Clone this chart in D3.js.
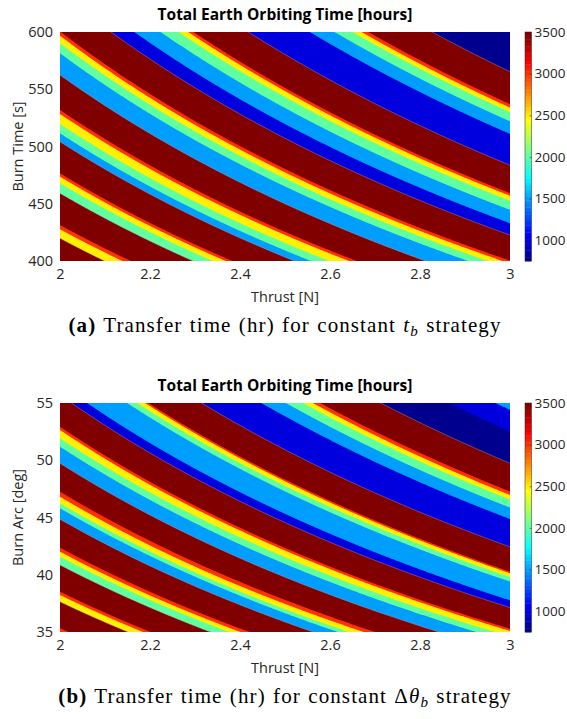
<!DOCTYPE html>
<html>
<head>
<meta charset="utf-8">
<script src="https://cdn.jsdelivr.net/npm/d3@7"></script>
<style>
body { margin: 0; background: #fff; }
.tick text, .lbl { font-family: "Open Sans", Lato, sans-serif; fill: #262626; }
.cap { font-family: "Liberation Serif", serif; fill: #000; }
</style>
</head>
<body>
<div id="chart"></div>
<script>
// --> DATA
var thrustTicks = [2, 2.2, 2.4, 2.6, 2.8, 3];
var timeTicks = [400, 450, 500, 550, 600];
var arcTicks = [35, 40, 45, 50, 55];
var cbarTicks = [1000, 1500, 2000, 2500, 3000, 3500];

// (a) band edges along thrust*burn time [N s], and contour level [hours] of each band
var edgesA = [800, 839.7, 855.4, 862.9, 918.3, 935.7, 947.3, 953.2, 1008.4, 1023.1, 1039.4,
              1056.9, 1063.8, 1124.9, 1162.8, 1180.3, 1193.5, 1201, 1268, 1299, 1334, 1358,
              1371, 1378, 1451, 1533, 1566, 1590, 1602, 1611, 1696, 1800];
var levelsA = [3500, 2500, 3000, 3500, 2000, 2500, 3000, 3500, 1500, 2000, 2500, 3000, 3500,
               1500, 2000, 2500, 3000, 3500, 1000, 1500, 2000, 2500, 3000, 3500,
               1000, 1500, 2000, 2500, 3000, 3500, 500];

// (b) band edges along thrust*burn arc [N deg]
var edgesB = [70, 70.65, 75.29, 76.46, 77.04, 81.7, 83.15, 84.03, 84.73, 89.69, 91.61, 92.48,
              93.63, 94.51, 99.47, 102.37, 103.83, 105.28, 105.86, 111.4, 113.3, 118.2, 119.4,
              120.4, 120.8, 127.3, 134.6, 137.6, 139.7, 140.9, 141.8, 149.2, 157.5, 163.2, 165];
var levelsB = [3000, 3500, 2500, 3000, 3500, 2000, 2500, 3000, 3500, 1500, 2000, 2500, 3000, 3500,
               1500, 2000, 2500, 3000, 3500, 1000, 1500, 2000, 2500, 3000, 3500,
               1000, 1500, 2000, 2500, 3000, 3500, 500, 1000, 1500];

var cmin = 750, cmax = 3500;

// MATLAB jet(64)
function jetColors(m) {
  var n = Math.ceil(m / 4);
  var u = [];
  for (var i = 1; i <= n; i++) u.push(i / n);
  for (var i = 1; i < n; i++) u.push(1);
  for (var i = n; i >= 1; i--) u.push(i / n);
  var g0 = Math.ceil(n / 2) - (m % 4 == 1 ? 1 : 0);
  var rgb = d3.range(m).map(function(){ return [0, 0, 0]; });
  u.forEach(function(val, k) {
    var gi = g0 + k + 1, ri = gi + n, bi = gi - n;
    if (gi <= m) rgb[gi - 1][1] = val;
    if (ri <= m) rgb[ri - 1][0] = val;
    if (bi >= 1 && bi <= m) rgb[bi - 1][2] = val;
  });
  return rgb.map(function(c){ return d3.rgb(c[0] * 255, c[1] * 255, c[2] * 255).formatHex(); });
}
var jet = jetColors(64);
function levelColor(v) {
  var k = Math.floor((v - cmin) / (cmax - cmin) * 64);
  return jet[Math.max(0, Math.min(63, k))];
}

// --> SVG
var width = 567, height = 719;
var svg = d3.select("#chart").append("svg")
  .attr("width", width)
  .attr("height", height);

function drawPanel(p) {
  var g = svg.append("g");
  var x = d3.scaleLinear().domain([2, 3]).range([60, 510]);
  var y = d3.scaleLinear().domain(p.yDomain).range([p.top + 229, p.top]);
  var y0 = p.yDomain[0], y1 = p.yDomain[1];
  var clamp = function(v) { return Math.max(y0, Math.min(y1, v)); };
  var ts = d3.range(0, 601).map(function(k){ return 2 + k / 600; });

  g.append("clipPath").attr("id", p.id + "-clip")
    .append("rect").attr("x", 60).attr("y", p.top).attr("width", 450).attr("height", 229);

  var plot = g.append("g").attr("clip-path", "url(#" + p.id + "-clip)");
  var top = p.edges[p.edges.length - 1];

  // each band painted from its lower edge upward, the next band paints over it
  p.levels.forEach(function(lev, i) {
    var lo = p.edges[i];
    var area = d3.area()
      .x(function(t){ return x(t); })
      .y0(function(t){ return y(clamp(lo / t)); })
      .y1(function(t){ return y(clamp(top * 1.2 / t)); });
    plot.append("path").attr("d", area(ts)).attr("fill", levelColor(lev));
  });

  // thin seams where the value drops
  p.levels.forEach(function(lev, i) {
    if (i == 0 || p.levels[i - 1] <= lev) return;
    var e = p.edges[i];
    var l = d3.line()
      .x(function(t){ return x(t); })
      .y(function(t){ return y(e / t); });
    plot.append("path").attr("d", l(ts)).attr("fill", "none")
      .attr("stroke", "#b8aec8").attr("stroke-width", 0.5).attr("opacity", 0.8);
  });

  // axes
  var xa = g.append("g").attr("transform", "translate(0," + (p.top + 229) + ")")
    .call(d3.axisBottom(x).tickValues(thrustTicks).tickFormat(d3.format("~g"))
      .tickSize(0).tickPadding(8));
  var ya = g.append("g").attr("transform", "translate(60,0)")
    .call(d3.axisLeft(y).tickValues(p.yTicks).tickSize(0).tickPadding(7));
  [xa, ya].forEach(function(a){
    a.select(".domain").remove();
    a.selectAll("text").style("font-size", "14.5px");
  });

  g.append("text").attr("class", "lbl")
    .attr("x", 285).attr("y", p.top + 270)
    .attr("text-anchor", "middle").style("font-size", "14.5px")
    .text("Thrust [N]");
  g.append("text").attr("class", "lbl")
    .attr("transform", "translate(23," + (p.top + 114.5) + ") rotate(-90)")
    .attr("text-anchor", "middle").style("font-size", "14.5px")
    .text(p.yLabel);
  g.append("text").attr("class", "lbl")
    .attr("x", 285).attr("y", p.top - 12)
    .attr("text-anchor", "middle").style("font-size", "15.5px").style("font-weight", "bold")
    .style("fill", "#000")
    .text("Total Earth Orbiting Time [hours]");

  // colorbar
  var c = d3.scaleLinear().domain([cmin, cmax]).range([p.top + 229, p.top]);
  var cb = g.append("g");
  cb.selectAll("rect.cell").data(jet).enter().append("rect")
    .attr("class", "cell")
    .attr("x", 525).attr("width", 6.5)
    .attr("y", function(d, k){ return c(cmin + (k + 1) * (cmax - cmin) / 64); })
    .attr("height", function(d, k){ return c(cmin + k * (cmax - cmin) / 64) - c(cmin + (k + 1) * (cmax - cmin) / 64) + 0.4; })
    .attr("fill", function(d){ return d; });
  cb.append("rect").attr("x", 525).attr("y", p.top).attr("width", 6.5).attr("height", 229)
    .attr("fill", "none").attr("stroke", "#262626").attr("stroke-width", 0.5);
  var ca = cb.append("g").attr("transform", "translate(531.5,0)")
    .call(d3.axisRight(c).tickValues(cbarTicks).tickFormat(d3.format("d"))
      .tickSize(-2).tickPadding(3));
  ca.select(".domain").remove();
  ca.selectAll("line").attr("stroke", "#262626").attr("stroke-width", 0.5);
  ca.selectAll("text").style("font-size", "13.5px");

  // caption
  var cap = g.append("text").attr("class", "cap")
    .attr("x", 285).attr("y", p.top + 300)
    .attr("text-anchor", "middle")
    .style("font-size", "21px").style("letter-spacing", "1.1px").style("word-spacing", "1px");
  p.caption(cap);
}

drawPanel({
  id: "a", top: 32, yDomain: [400, 600], yTicks: timeTicks, yLabel: "Burn Time [s]",
  edges: edgesA, levels: levelsA,
  caption: function(t) {
    t.append("tspan").style("font-weight", "bold").text("(a)");
    t.append("tspan").text(" Transfer time (hr) for constant ");
    t.append("tspan").style("font-style", "italic").text("t");
    t.append("tspan").attr("dy", 4).style("font-size", "15px").style("font-style", "italic").text("b");
    t.append("tspan").attr("dy", -4).text(" strategy");
  }
});

drawPanel({
  id: "b", top: 403, yDomain: [35, 55], yTicks: arcTicks, yLabel: "Burn Arc [deg]",
  edges: edgesB, levels: levelsB,
  caption: function(t) {
    t.append("tspan").style("font-weight", "bold").text("(b)");
    t.append("tspan").text(" Transfer time (hr) for constant \u0394");
    t.append("tspan").style("font-style", "italic").text("\u03b8");
    t.append("tspan").attr("dy", 4).style("font-size", "15px").style("font-style", "italic").text("b");
    t.append("tspan").attr("dy", -4).text(" strategy");
  }
});
</script>
</body>
</html>
